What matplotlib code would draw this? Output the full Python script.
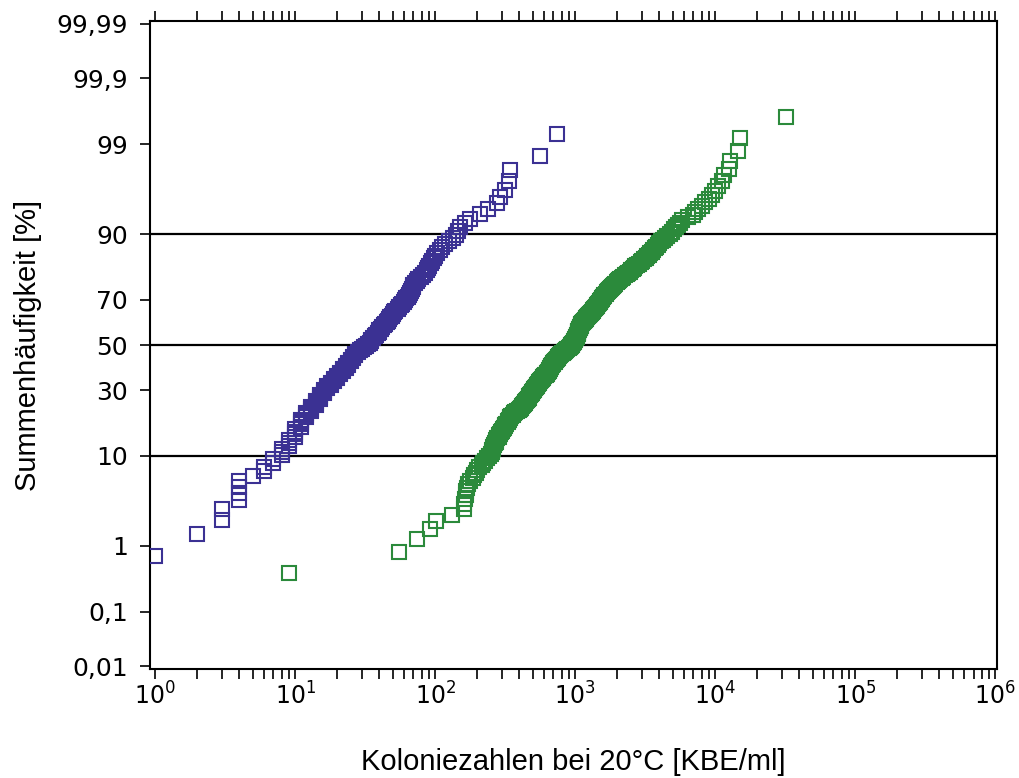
import numpy as np
import matplotlib
matplotlib.use('Agg')
import matplotlib.pyplot as plt
from statistics import NormalDist

# Koloniezahlen (sortiert)
blue_counts = [
    1, 2, 3, 3, 4, 4, 4, 4, 5, 6,
    6, 7, 7, 8, 8, 8, 9, 9, 9, 10,
    10, 10, 10, 11, 11, 11, 11, 12, 12, 12,
    13, 13, 13, 14, 14, 14, 15, 15, 15, 16,
    16, 16, 17, 17, 18, 18, 19, 19, 20, 20,
    21, 21, 22, 22, 23, 23, 24, 24, 25, 25,
    26, 26, 27, 27, 28, 29, 30, 31, 32, 33,
    34, 35, 35, 36, 37, 38, 39, 40, 40, 41,
    42, 43, 44, 45, 46, 47, 48, 49, 50, 51,
    52, 54, 55, 57, 58, 60, 61, 62, 64, 65,
    66, 67, 68, 69, 70, 72, 74, 76, 79, 82,
    85, 87, 89, 91, 93, 95, 98, 100, 104, 108,
    112, 118, 125, 135, 140, 145, 150, 164, 178, 210,
    239, 277, 291, 316, 337, 343, 562, 743,
]

green_counts = [
    9, 55, 74, 92, 102, 132,
    160, 162, 163, 165, 165, 168,
    172, 178, 185,
    190, 195, 200, 205, 215,
    220, 228, 235, 242,
    250, 253, 256, 258, 261, 265,
    268, 270, 274, 278, 285, 288, 292, 296, 300, 305,
    310, 314, 318, 322, 330, 333, 337, 340, 345, 350,
    358, 367, 375, 385, 395, 402, 410, 416, 423, 430,
    436, 442, 448, 455, 461, 466, 472, 478, 484, 490,
    495, 500, 506, 512, 520, 525, 530, 536, 542, 548,
    555, 562, 568, 576, 585, 592, 600, 608, 616, 625,
    632, 640, 646, 653, 660, 665, 670, 676, 683, 690,
    698, 706, 714, 722, 730, 740, 750, 760, 770, 780,
    792, 805, 820, 835, 850, 865, 880, 898, 915, 930,
    940, 948, 957, 966, 975, 984, 993, 1000, 1010, 1020,
    1025, 1030, 1035, 1040, 1045, 1050, 1056, 1062, 1068, 1075,
    1082, 1088, 1095, 1102, 1110, 1125, 1140, 1155, 1172, 1190,
    1204, 1218, 1232, 1246, 1260, 1278, 1296, 1314, 1332, 1350,
    1368, 1386, 1404, 1422, 1440, 1458, 1476, 1494, 1512, 1530,
    1548, 1566, 1584, 1602, 1620, 1648, 1676, 1704, 1732, 1760,
    1795, 1830, 1865, 1900, 1930, 1975, 2020, 2060, 2100, 2150,
    2210, 2270, 2330, 2390, 2450, 2510, 2570, 2630, 2690, 2750,
    2840, 2930, 3020, 3110, 3200, 3280, 3360, 3440, 3520, 3600,
    3700, 3800, 3900, 4000, 4100, 4250, 4400, 4560, 4730, 4900,
    5050, 5250, 5400, 5600, 5800,
    6400, 6900, 7200, 7600, 8000, 8500, 9000, 9500, 10000, 10500,
    11200, 11500, 12500, 12800, 14600, 15100, 32000,
]

x_decades = [0, 1, 2, 3, 4, 5, 6]
y_ticks = [0.01, 0.1, 1, 10, 30, 50, 70, 90, 99, 99.9, 99.99]
y_ticklabels = ['0,01', '0,1', '1', '10', '30', '50', '70', '90', '99', '99,9', '99,99']
grid_levels = [10, 50, 90]

blue_color = '#3b3193'
green_color = '#2b8a3b'

nd = NormalDist()
_ppf = np.vectorize(nd.inv_cdf, otypes=[float])
_cdf = np.vectorize(nd.cdf, otypes=[float])


def prob_fwd(p):
    p = np.clip(np.asarray(p, dtype=float), 1e-7, 100 - 1e-7) / 100.0
    return _ppf(p)


def prob_inv(z):
    return _cdf(np.asarray(z, dtype=float)) * 100.0


def summenhaeufigkeit(counts):
    # Summenhaeufigkeit nach Rang: i / (n + 1)
    n = len(counts)
    return np.arange(1, n + 1) / (n + 1) * 100.0


fig = plt.figure(figsize=(10.19, 7.78), dpi=100)
ax = fig.add_axes([150 / 1019, 1 - 669 / 778, (997 - 150) / 1019, (669 - 21) / 778])

ax.set_xscale('log')
ax.set_yscale('function', functions=(prob_fwd, prob_inv))

for lvl in grid_levels:
    ax.axhline(lvl, color='black', lw=1.6, zorder=1)

ax.plot(blue_counts, summenhaeufigkeit(blue_counts), 's', ms=9.4, mfc='none',
        mec=blue_color, mew=1.5, zorder=3)
ax.plot(green_counts, summenhaeufigkeit(green_counts), 's', ms=9.4, mfc='none',
        mec=green_color, mew=1.5, zorder=3)

ax.set_xlim(0.92, 1.03e6)
ax.set_ylim(prob_inv(-3.75), prob_inv(3.75))

ax.set_yticks(y_ticks)
ax.set_yticklabels(y_ticklabels)
ax.yaxis.set_minor_locator(matplotlib.ticker.NullLocator())

major_x = [10.0 ** d for d in x_decades]
minor_x = [m * 10.0 ** d for d in x_decades[:-1] for m in range(2, 10)]
ax.set_xticks(major_x)
ax.set_xticklabels([r'$\mathregular{10^{%d}}$' % d for d in x_decades])
ax.set_xticks(minor_x, minor=True)
ax.xaxis.set_minor_formatter(matplotlib.ticker.NullFormatter())

ax.tick_params(axis='x', which='both', direction='out', length=7, width=1.2,
               top=True, bottom=True, labeltop=False, labelsize=17, pad=3)
ax.tick_params(axis='y', which='both', direction='out', length=7, width=1.2,
               left=True, right=False, labelsize=18, pad=9)

for side in ax.spines.values():
    side.set_linewidth(1.5)

ax.set_xlabel('Koloniezahlen bei 20°C [KBE/ml]', fontsize=21, family='Liberation Sans', labelpad=27)
ax.set_ylabel('Summenhäufigkeit [%]', fontsize=21, family='Liberation Sans', labelpad=10)

fig.savefig('out.png', dpi=100)
